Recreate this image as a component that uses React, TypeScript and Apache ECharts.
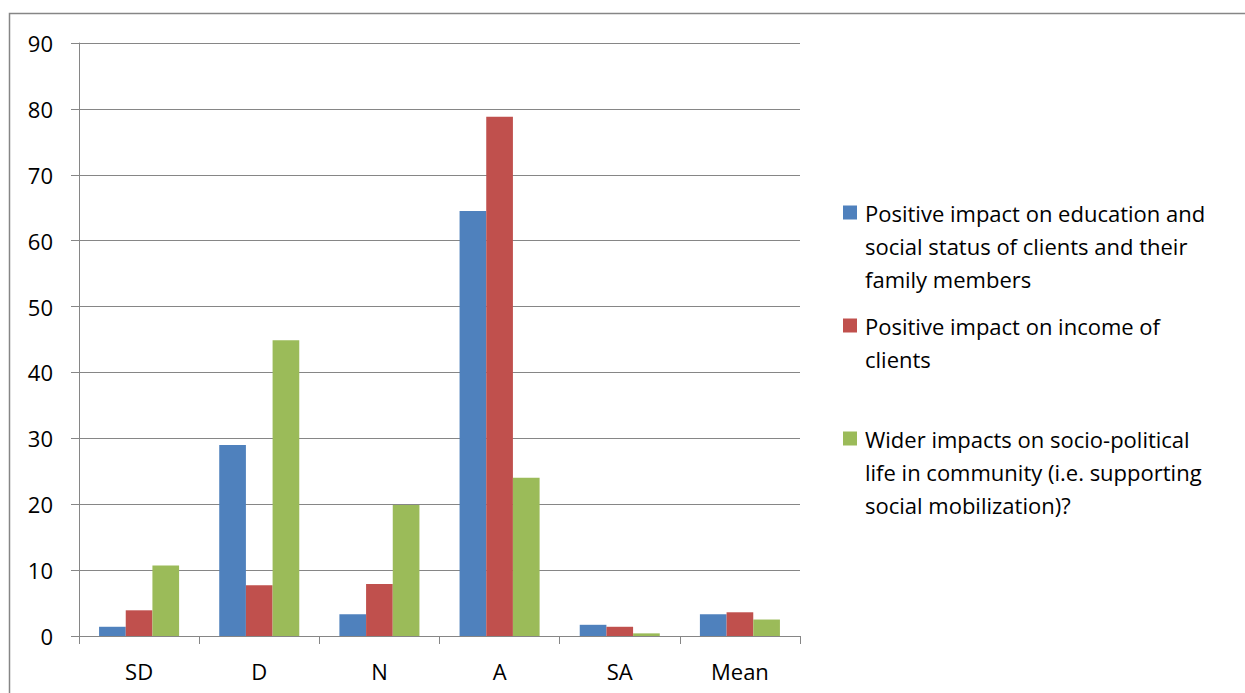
import React, { useEffect, useRef } from "react";
import * as echarts from "echarts";

const categories = ["SD", "D", "N", "A", "SA", "Mean"];
const seriesNames = [
  "Positive impact on education and social status of clients and their family members",
  "Positive impact on income of clients",
  "Wider impacts on socio-political life in community (i.e. supporting social mobilization)?",
];
const educationValues = [1.4, 29, 3.3, 64.5, 1.7, 3.3];
const incomeValues = [3.9, 7.7, 7.9, 78.8, 1.4, 3.6];
const widerValues = [10.7, 44.9, 19.9, 24.0, 0.4, 2.5];
const seriesColors = ["#4F81BD", "#C0504D", "#9BBB59"];
const legendLines = [
  ["Positive impact on education and", "social status of clients and their", "family members"],
  ["Positive impact on income of", "clients"],
  ["Wider impacts on socio-political", "life in community (i.e. supporting", "social mobilization)?"],
];
const yTicks = { min: 0, max: 90, interval: 10 };

const FONT = "Open Sans";
const FS = 22;

export default function App() {
  const ref = useRef<HTMLDivElement>(null);
  useEffect(() => {
    if (!ref.current) return;
    const chart = echarts.init(ref.current, null, { renderer: "svg" });
    const values = [educationValues, incomeValues, widerValues];
    const legendText: Record<string, string> = {};
    seriesNames.forEach((n, i) => {
      // blank lines above so that the icon lines up with the first text line
      const content = legendLines[i];
      const pad = new Array(content.length - 1).fill("\n").join("");
      legendText[n] = pad + content.join("\n");
    });
    chart.setOption({
      animation: false,
      backgroundColor: "#ffffff",
      textStyle: { fontFamily: FONT },
      graphic: [
        {
          type: "rect",
          shape: { x: 9.5, y: 13.5, width: 1300, height: 800 },
          style: { fill: "none", stroke: "#868686", lineWidth: 1.5 },
          silent: true,
        },
      ],
      grid: { left: 79, right: 445, top: 43, bottom: 57, containLabel: false },
      legend: {
        orient: "vertical",
        left: 843,
        top: 130,
        padding: 0,
        itemWidth: 14,
        itemHeight: 14,
        itemGap: -19,
        icon: "rect",
        selectedMode: false,
        data: seriesNames,
        formatter: (name: string) => legendText[name],
        textStyle: { fontSize: FS, lineHeight: 33, color: "#000", fontFamily: FONT, padding: [0, 0, 0, 3] },
      },
      xAxis: {
        type: "category",
        data: categories,
        boundaryGap: true,
        axisLine: { show: true, lineStyle: { color: "#868686", width: 1 } },
        axisTick: { show: true, length: 8, alignWithLabel: false, interval: 0, lineStyle: { color: "#868686" } },
        axisLabel: { fontSize: FS, color: "#000", margin: 24, fontFamily: FONT, interval: 0 },
        splitLine: { show: false },
      },
      yAxis: {
        type: "value",
        min: yTicks.min,
        max: yTicks.max,
        interval: yTicks.interval,
        axisLine: { show: true, lineStyle: { color: "#868686", width: 1 } },
        axisTick: { show: true, length: 8, lineStyle: { color: "#868686" } },
        axisLabel: { fontSize: FS, color: "#000", margin: 26, fontFamily: FONT },
        splitLine: { show: true, lineStyle: { color: "#868686", width: 1 } },
      },
      series: seriesNames.map((name, i) => ({
        name,
        type: "bar",
        data: values[i],
        barGap: "0%",
        barCategoryGap: "33.4%",
        itemStyle: { color: seriesColors[i] },
      })),
    });
    return () => chart.dispose();
  }, []);
  return (
    <div
      ref={ref}
      style={{ position: "absolute", left: 0, top: 0, width: 1245, height: 693 }}
    />
  );
}
